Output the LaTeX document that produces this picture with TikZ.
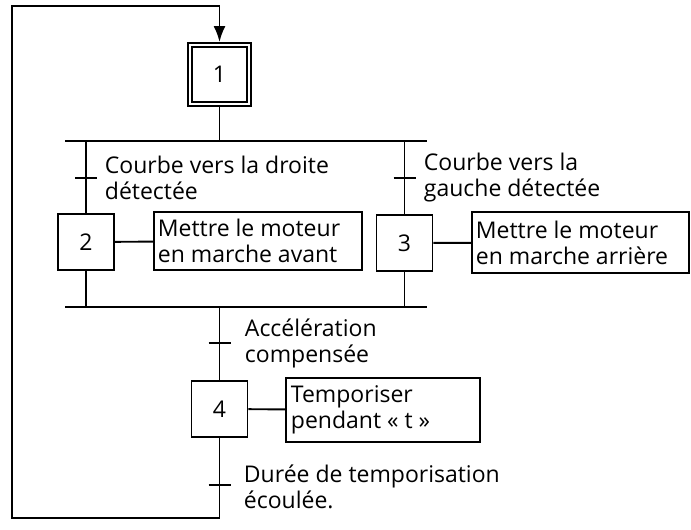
\documentclass[tikz,border=0pt]{standalone}
\usepackage{fontspec}
\setmainfont{Open Sans}
\usetikzlibrary{arrows.meta}

\begin{document}
\begin{tikzpicture}
        [x=1pt, y=-1pt, line width=1.9pt,
        every node/.style={font=\fontsize{23}{26}\selectfont},
        etape/.style={rectangle,draw,minimum size=56pt,inner sep=0pt},
        etapeInit/.style={rectangle,draw,double,double distance=2pt,minimum size=59pt,inner sep=0pt,outer sep=3pt},
        action/.style={rectangle,draw,align=flush left,inner xsep=4pt,inner ysep=0pt,anchor=west},
        recept/.style={anchor=west,align=flush left,inner sep=0pt}]
        \useasboundingbox (0,0) rectangle (691,530);

        % etapes
        \node[etapeInit] (E1) at (219.5,74.5) {1};
        \node[etape] (E2) at (86,242) {2};
        \node[etape] (E3) at (404.5,243) {3};
        \node[etape] (E4) at (219.5,409) {4};

        % actions
        \node[action, text width=200pt, minimum height=58pt] (A2) at (153,241) {Mettre le moteur\\en marche avant};
        \node[action, text width=209pt, minimum height=61pt] (A3) at (471,242.5) {Mettre le moteur\\en marche arrière};
        \node[action, text width=184pt, minimum height=64pt, inner xsep=5pt] (A4) at (285,410) {Temporiser\\pendant « t »};

        \draw (E2) -- (A2);
        \draw (E3) -- (A3);
        \draw (E4) -- (A4);

        % divergence et convergence en OU
        \coordinate (divG) at (65,141);
        \coordinate (divD) at (427,141);
        \coordinate (convG) at (65,307);
        \coordinate (convD) at (427,307);
        \draw (divG) -- (divD);
        \draw (convG) -- (convD);

        % transitions
        \coordinate (T1) at (86,178);
        \coordinate (T2) at (404.5,178);
        \coordinate (T3) at (219.5,343);
        \coordinate (T4) at (219.5,485);
        \coordinate (boucleB) at (12,518);
        \coordinate (boucleH) at (12,6);

        \draw (E1) -- (E1 |- divG);
        \draw (T1 |- divG) -- (E2);
        \draw (T2 |- divG) -- (E3);
        \draw (E2) -- (E2 |- convG);
        \draw (E3) -- (E3 |- convG);
        \draw (T3 |- convG) -- (E4);
        \draw[-{Latex[length=16pt,width=12pt]}] (E4) -- (E4 |- boucleB) -- (boucleB) -- (boucleH) -- (E1 |- boucleH) -- (E1);

        \foreach \t in {T1,T2,T3,T4}
            \draw ([xshift=-11pt]\t) -- ([xshift=11pt]\t);

        % receptivites
        \node[recept] (R1) at (104,178) {Courbe vers la droite\\détectée};
        \node[recept] (R2) at (423,178) {Courbe vers la\\gauche détectée};
        \node[recept] (R3) at (244,343) {Accélération\\compensée};
        \node[recept] (R4) at (243,487) {Durée de temporisation\\écoulée.};
    \end{tikzpicture}
\end{document}
